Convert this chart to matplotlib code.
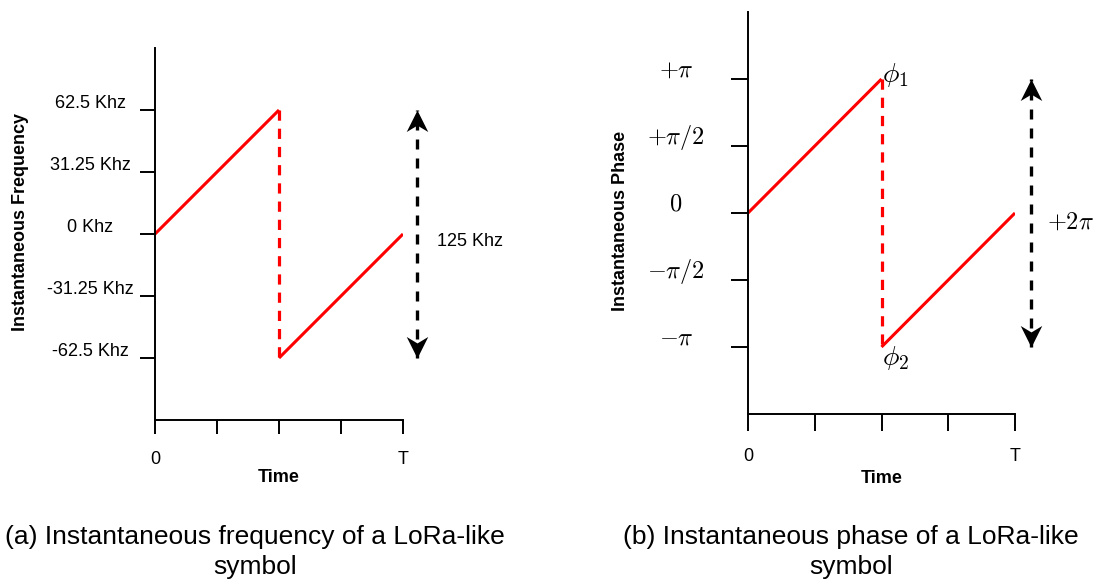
import numpy as np
import matplotlib
matplotlib.use("Agg")
import matplotlib.pyplot as plt
from matplotlib.path import Path
from matplotlib.markers import MarkerStyle
from matplotlib.transforms import ScaledTranslation

plt.rcParams['font.family'] = ['Liberation Sans', 'DejaVu Sans']
plt.rcParams['mathtext.fontset'] = 'cm'

# ---------------- data ----------------
T = 1.0
time_ticks = [0, 0.25, 0.5, 0.75, 1.0]
time_tick_labels = ['0', '', '', '', 'T']

# (a) instantaneous frequency (kHz)
t_up = [0.0, 0.5]
freq_up = [0.0, 62.5]
t_down = [0.5, 1.0]
freq_down = [-62.5, 0.0]
freq_ticks = [62.5, 31.25, 0.0, -31.25, -62.5]
freq_tick_labels = ['62.5 Khz', '31.25 Khz', '0 Khz', '-31.25 Khz', '-62.5 Khz']
freq_span_label = '125 Khz'

# (b) instantaneous phase (radians)
phase_up = [0.0, np.pi]
phase_down = [-np.pi, 0.0]
phase_ticks = [np.pi, np.pi / 2, 0.0, -np.pi / 2, -np.pi]
phase_tick_labels = [r'$+\pi$', r'$+\pi/2$', r'$0$', r'$-\pi/2$', r'$-\pi$']
phase_span_label = r'$+2\pi$'

# ---------------- figure ----------------
W, H = 1097, 579
DPI = 100
fig = plt.figure(figsize=(W / DPI, H / DPI), dpi=DPI)


def px_axes(l, t, r, b):
    return [l / W, 1 - b / H, (r - l) / W, (b - t) / H]


ax1 = fig.add_axes(px_axes(155, 48, 403, 420))
ax2 = fig.add_axes(px_axes(748, 12, 1015, 414))

RED = '#ff0000'
up_head = MarkerStyle(Path([(0, 0), (0.5, -1), (0, -0.7), (-0.5, -1), (0, 0)],
                           [Path.MOVETO, Path.LINETO, Path.LINETO, Path.LINETO, Path.CLOSEPOLY]))
down_head = MarkerStyle(Path([(0, 0), (0.5, 1), (0, 0.7), (-0.5, 1), (0, 0)],
                             [Path.MOVETO, Path.LINETO, Path.LINETO, Path.LINETO, Path.CLOSEPOLY]))


def style_axes(ax, ylim, yticks, ylabels, ytick_len, xtick_len, ylab_pad, ylab_size,
               label_text, label_xy, yoff_px, xlabelpad):
    for s in ['top', 'right']:
        ax.spines[s].set_visible(False)
    for s in ['left', 'bottom']:
        ax.spines[s].set_linewidth(1.4)
        ax.spines[s].set_color('black')
    ax.set_xlim(0, T)
    ax.set_ylim(*ylim)
    ax.set_xticks(time_ticks)
    ax.set_xticklabels(time_tick_labels)
    ax.set_yticks(yticks)
    ax.set_yticklabels(ylabels)
    ax.tick_params(axis='y', direction='out', length=ytick_len * 0.72, width=1.4,
                   pad=ylab_pad * 0.72, labelsize=ylab_size)
    ax.tick_params(axis='x', direction='out', length=xtick_len * 0.72, width=1.4,
                   pad=12.5, labelsize=13)
    off = ScaledTranslation(0, yoff_px / DPI, fig.dpi_scale_trans)
    for lab in ax.get_yticklabels():
        lab.set_horizontalalignment('center')
        lab.set_verticalalignment('baseline')
        lab.set_transform(lab.get_transform() + off)
    ax.set_xlabel('Time', fontsize=13, fontweight='bold', labelpad=xlabelpad)
    ax.set_ylabel(label_text, fontsize=13, fontweight='bold')
    ax.yaxis.set_label_coords(*label_xy)


# ---- panel (a) ----
ax1.plot(t_up, freq_up, color=RED, lw=2.2, solid_capstyle='butt')
ax1.plot([t_up[-1], t_down[0]], [freq_up[-1], freq_down[0]], color=RED, lw=2.3,
         ls='--', dashes=(3.2, 2.5))
ax1.plot(t_down, freq_down, color=RED, lw=2.2, solid_capstyle='butt')
style_axes(ax1, (-1.5 * max(freq_up), 1.5 * max(freq_up)), freq_ticks, freq_tick_labels,
           15, 14, 50, 13, 'Instantaneous Frequency', (-0.508, 0.532), 2, 0.5)

xa1 = 1.056 * T
ax1.plot([xa1, xa1], [min(freq_down), max(freq_up)], color='black', lw=2.4,
         ls='--', dashes=(3.0, 2.7), clip_on=False)
ax1.plot([xa1], [max(freq_up)], marker=up_head, ms=31, color='black', mew=0, ls='none', clip_on=False)
ax1.plot([xa1], [min(freq_down)], marker=down_head, ms=31, color='black', mew=0, ls='none', clip_on=False)
ax1.text(1.137 * T, -4, freq_span_label, fontsize=13, ha='left', va='center', clip_on=False)

# ---- panel (b) ----
ax2.plot(t_up, phase_up, color=RED, lw=2.2, solid_capstyle='butt')
ax2.plot([t_up[-1], t_down[0]], [phase_up[-1], phase_down[0]], color=RED, lw=2.3,
         ls='--', dashes=(3.2, 2.5))
ax2.plot(t_down, phase_down, color=RED, lw=2.2, solid_capstyle='butt')
style_axes(ax2, (-1.5 * np.pi, 1.5 * np.pi), phase_ticks, phase_tick_labels,
           17, 17, 55, 17.5, 'Instantaneous Phase', (-0.445, 0.48), 2.5, 3.5)

xa2 = 1.06 * T
ax2.plot([xa2, xa2], [min(phase_down), max(phase_up)], color='black', lw=2.4,
         ls='--', dashes=(3.0, 2.7), clip_on=False)
ax2.plot([xa2], [max(phase_up)], marker=up_head, ms=31, color='black', mew=0, ls='none', clip_on=False)
ax2.plot([xa2], [min(phase_down)], marker=down_head, ms=31, color='black', mew=0, ls='none', clip_on=False)
ax2.text(1.12 * T, -0.075 * np.pi, phase_span_label, fontsize=17.5, ha='left', va='center', clip_on=False)

ax2.annotate(r'$\phi_1$', xy=(t_up[-1], phase_up[-1]), xytext=(1, 4), textcoords='offset pixels',
             fontsize=20, ha='left', va='center')
ax2.annotate(r'$\phi_2$', xy=(t_down[0], phase_down[0]), xytext=(0, 3), textcoords='offset pixels',
             fontsize=20, ha='left', va='top')

# ---- captions ----
fig.text(255 / W, 1 - 525 / H, '(a) Instantaneous frequency of a LoRa-like\nsymbol',
         ha='center', va='top', fontsize=19, linespacing=1.32)
fig.text(851 / W, 1 - 525 / H, '(b) Instantaneous phase of a LoRa-like\nsymbol',
         ha='center', va='top', fontsize=19, linespacing=1.32)

fig.savefig('out.png', dpi=DPI)
